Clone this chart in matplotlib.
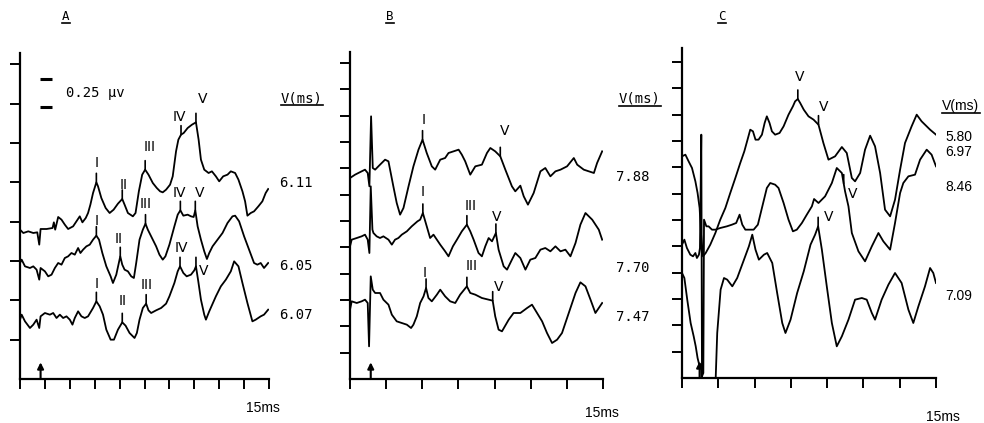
import numpy as np
import matplotlib.pyplot as plt

# ---- panel A : latency (ms) / amplitude (arb. units), three traces ----
a1_t = [0, 0.2, 0.5, 0.8, 1.04, 1.16, 1.24, 1.6, 1.96, 2.04, 2.12, 2.3, 2.5, 2.7, 2.9, 3.2, 3.44, 3.6, 3.76, 3.96,
        4.1, 4.24, 4.4, 4.6, 4.7, 4.9, 5.16, 5.4, 5.64, 5.9, 6.16, 6.3, 6.5, 6.8, 6.96, 7.16, 7.36, 7.54, 7.74, 8.0,
        8.24, 8.44, 8.6, 8.8, 9.04, 9.2, 9.4, 9.54, 9.7, 9.86, 10.1, 10.36, 10.6, 10.76, 10.9, 11.1, 11.36, 11.56,
        11.8, 12.0, 12.24, 12.5, 12.7, 12.96, 13.16, 13.4, 13.56, 13.7, 13.9, 14.1, 14.36, 14.6, 14.8, 14.95]
a1_v = [4.48, 4.38, 4.43, 4.38, 4.40, 4.03, 4.50, 4.50, 4.53, 4.70, 4.48, 4.86, 4.78, 4.63, 4.50, 4.58, 4.76, 4.88,
        4.70, 4.83, 4.98, 5.23, 5.58, 5.90, 5.78, 5.43, 5.13, 4.98, 5.08, 5.26, 5.40, 5.23, 4.98, 4.88, 4.98, 5.63,
        6.13, 6.28, 6.13, 5.88, 5.73, 5.63, 5.60, 5.68, 5.83, 6.08, 6.83, 7.18, 7.33, 7.38, 7.53, 7.63, 7.70, 7.18,
        6.58, 6.28, 6.18, 6.23, 6.08, 5.93, 6.08, 6.13, 6.23, 6.18, 5.98, 5.63, 5.33, 4.90, 4.98, 5.03, 5.18, 5.33,
        5.58, 5.70]
a2_t = [0, 0.1, 0.3, 0.6, 0.8, 1.0, 1.16, 1.24, 1.5, 1.7, 1.9, 2.1, 2.3, 2.5, 2.7, 2.9, 3.1, 3.3, 3.5, 3.64, 3.8,
        4.0, 4.2, 4.4, 4.6, 4.76, 4.96, 5.2, 5.46, 5.6, 5.8, 6.04, 6.16, 6.3, 6.5, 6.7, 6.86, 7.0, 7.2, 7.4, 7.56,
        7.7, 7.9, 8.2, 8.4, 8.6, 8.76, 9.0, 9.3, 9.5, 9.66, 9.84, 10.1, 10.3, 10.46, 10.56, 10.7, 10.9, 11.1, 11.26,
        11.4, 11.6, 11.9, 12.2, 12.5, 12.8, 12.96, 13.2, 13.5, 13.8, 14.1, 14.3, 14.5, 14.7, 14.95]
a2_v = [3.48, 3.58, 3.38, 3.33, 3.38, 3.28, 2.98, 3.33, 3.23, 3.08, 3.13, 3.33, 3.48, 3.43, 3.63, 3.68, 3.78, 3.73,
        3.93, 3.78, 3.88, 3.98, 4.03, 4.18, 4.30, 4.18, 3.78, 3.38, 3.08, 2.88, 3.13, 3.68, 3.43, 3.28, 3.23, 3.08,
        3.03, 3.48, 4.18, 4.48, 4.66, 4.48, 4.28, 3.98, 3.73, 3.58, 3.68, 4.03, 4.58, 4.93, 5.06, 4.90, 4.93, 4.88,
        4.86, 5.06, 4.58, 4.18, 3.83, 3.60, 3.78, 3.98, 4.18, 4.38, 4.68, 4.88, 4.90, 4.73, 4.28, 3.88, 3.48, 3.43,
        3.48, 3.33, 3.48]
a3_t = [0, 0.1, 0.3, 0.6, 0.8, 1.0, 1.16, 1.24, 1.5, 1.8, 2.0, 2.2, 2.4, 2.6, 2.8, 3.0, 3.16, 3.3, 3.5, 3.7, 3.9,
        4.1, 4.4, 4.6, 4.8, 5.0, 5.2, 5.46, 5.66, 5.9, 6.16, 6.36, 6.6, 6.9, 7.04, 7.2, 7.4, 7.6, 7.74, 7.9, 8.2,
        8.5, 8.8, 9.0, 9.3, 9.5, 9.64, 9.84, 10.04, 10.3, 10.5, 10.6, 10.74, 10.9, 11.1, 11.2, 11.4, 11.8, 12.1,
        12.4, 12.7, 12.9, 13.16, 13.4, 13.7, 14.0, 14.2, 14.5, 14.7, 14.95]
a3_v = [1.78, 1.93, 1.73, 1.53, 1.63, 1.78, 1.53, 1.88, 1.98, 1.93, 1.98, 1.83, 1.93, 1.83, 1.88, 1.78, 1.63, 1.83,
        2.03, 1.88, 1.83, 1.88, 2.13, 2.33, 2.18, 1.93, 1.48, 1.18, 1.18, 1.48, 1.70, 1.60, 1.38, 1.23, 1.38, 1.78,
        2.13, 2.26, 2.06, 1.98, 2.06, 2.13, 2.26, 2.48, 2.88, 3.23, 3.38, 3.18, 3.08, 3.13, 3.26, 3.38, 2.93, 2.38,
        1.93, 1.78, 2.03, 2.48, 2.78, 2.98, 3.23, 3.53, 3.38, 2.88, 2.28, 1.73, 1.78, 1.88, 1.93, 2.08]

# ---- panel B ----
b1_t = [0, 0.30, 0.69, 0.89, 1.05, 1.15, 1.25, 1.35, 1.49, 1.78, 2.08, 2.28, 2.57, 2.77, 2.97, 3.17, 3.47, 3.76,
        4.06, 4.30, 4.55, 4.85, 5.05, 5.35, 5.64, 5.84, 6.14, 6.44, 6.63, 6.83, 7.13, 7.43, 7.82, 8.12, 8.32, 8.61,
        8.91, 9.21, 9.60, 9.80, 10.10, 10.30, 10.55, 10.89, 11.29, 11.58, 11.88, 12.18, 12.48, 12.87, 13.27, 13.47,
        13.86, 14.46, 14.65, 14.95]
b1_v = [6.03, 6.13, 6.23, 6.28, 6.18, 5.78, 7.88, 6.33, 6.28, 6.43, 6.58, 6.53, 5.78, 5.28, 4.93, 5.13, 5.78, 6.38,
        6.88, 7.18, 6.78, 6.38, 6.28, 6.58, 6.63, 6.78, 6.83, 6.88, 6.73, 6.53, 6.13, 6.38, 6.43, 6.78, 6.93, 6.83,
        6.68, 6.28, 5.78, 5.63, 5.80, 5.48, 5.23, 5.58, 6.23, 6.33, 6.08, 6.23, 6.28, 6.38, 6.63, 6.43, 6.28, 6.18,
        6.48, 6.83]
b2_t = [0, 0.10, 0.40, 0.69, 0.89, 1.05, 1.15, 1.23, 1.33, 1.39, 1.58, 1.78, 1.98, 2.28, 2.48, 2.67, 2.87, 3.07,
        3.37, 3.66, 4.00, 4.16, 4.32, 4.55, 4.75, 4.95, 5.15, 5.35, 5.64, 5.84, 6.10, 6.34, 6.63, 6.93, 7.13, 7.33,
        7.62, 7.82, 8.02, 8.22, 8.42, 8.65, 8.81, 9.11, 9.31, 9.60, 9.80, 10.10, 10.40, 10.69, 10.99, 11.29, 11.58,
        11.88, 12.18, 12.48, 12.77, 13.07, 13.37, 13.66, 13.96, 14.36, 14.75, 14.95]
b2_v = [3.98, 4.18, 4.23, 4.28, 4.33, 4.18, 3.78, 5.78, 4.48, 4.38, 4.28, 4.23, 4.28, 4.18, 4.03, 4.18, 4.23, 4.33,
        4.43, 4.58, 4.73, 4.78, 4.98, 4.58, 4.23, 4.33, 4.18, 4.03, 3.83, 3.68, 3.98, 4.18, 4.43, 4.63, 4.43, 4.18,
        3.78, 3.68, 3.98, 4.23, 4.13, 4.38, 3.88, 3.38, 3.28, 3.58, 3.78, 3.63, 3.28, 3.58, 3.63, 3.88, 3.93, 3.83,
        3.98, 3.83, 3.88, 3.68, 4.08, 4.63, 4.98, 4.78, 4.48, 4.18]
b3_t = [0, 0.10, 0.40, 0.69, 0.89, 1.05, 1.13, 1.23, 1.35, 1.49, 1.78, 1.98, 2.28, 2.48, 2.77, 3.07, 3.37, 3.62,
        3.76, 3.96, 4.16, 4.36, 4.51, 4.65, 4.85, 5.15, 5.35, 5.64, 5.94, 6.24, 6.53, 6.93, 7.13, 7.43, 7.82, 8.22,
        8.46, 8.61, 8.81, 9.01, 9.41, 9.70, 10.10, 10.50, 10.79, 11.09, 11.39, 11.68, 11.98, 12.28, 12.57, 12.97,
        13.37, 13.66, 13.96, 14.26, 14.55, 14.75, 14.95]
b3_v = [2.08, 2.33, 2.28, 2.33, 2.38, 2.28, 0.98, 3.08, 2.68, 2.58, 2.58, 2.38, 2.23, 1.93, 1.73, 1.68, 1.63, 1.53,
        1.63, 1.88, 2.28, 2.48, 2.73, 2.43, 2.33, 2.53, 2.68, 2.48, 2.33, 2.28, 2.53, 2.78, 2.58, 2.53, 2.43, 2.38,
        2.35, 1.88, 1.48, 1.43, 1.78, 1.98, 1.98, 2.13, 2.23, 1.98, 1.73, 1.38, 1.08, 1.18, 1.38, 1.98, 2.58, 2.90,
        2.78, 2.38, 1.98, 2.13, 2.28]

# ---- panel C ----
c1_t = [0, 0.20, 0.39, 0.59, 0.79, 0.92, 1.04, 1.12, 1.24, 1.40, 1.67, 1.97, 2.26, 2.56, 2.85, 3.15, 3.44, 3.68,
        3.87, 4.03, 4.19, 4.34, 4.52, 4.72, 4.88, 5.01, 5.17, 5.31, 5.50, 5.76, 6.00, 6.29, 6.55, 6.68, 6.84, 6.98,
        7.19, 7.47, 7.77, 8.06, 8.35, 8.65, 9.04, 9.44, 9.73, 10.03, 10.22, 10.52, 10.81, 11.11, 11.40, 11.70,
        11.99, 12.29, 12.58, 12.88, 13.17, 13.56, 13.86, 14.15, 14.45, 14.65, 15.0]
c1_v = [6.65, 6.70, 6.50, 6.30, 5.90, 5.55, 5.10, 4.35, 3.65, 3.75, 4.00, 4.35, 4.75, 5.10, 5.55, 6.00, 6.45, 6.80,
        7.15, 7.45, 7.40, 7.15, 7.15, 7.30, 7.65, 7.85, 7.65, 7.40, 7.30, 7.35, 7.55, 7.90, 8.15, 8.30, 8.37, 8.25,
        8.05, 7.85, 7.75, 7.60, 7.05, 6.55, 6.65, 6.93, 6.75, 6.00, 5.90, 6.15, 6.85, 7.27, 6.95, 6.15, 5.05, 4.85,
        5.35, 6.25, 7.05, 7.55, 7.90, 7.70, 7.55, 7.45, 7.30]
c2_t = [0, 0.14, 0.29, 0.49, 0.65, 0.79, 0.88, 1.00, 1.06, 1.14, 1.18, 1.26, 1.30, 1.44, 1.57, 1.77, 1.97, 2.26,
        2.65, 2.95, 3.20, 3.40, 3.56, 3.74, 3.93, 4.23, 4.48, 4.72, 5.01, 5.21, 5.50, 5.70, 6.00, 6.29, 6.55, 6.78,
        7.08, 7.37, 7.67, 7.80, 8.06, 8.45, 8.85, 9.14, 9.44, 9.63, 9.83, 10.03, 10.42, 10.81, 11.21, 11.60, 11.89,
        12.29, 12.58, 12.88, 13.07, 13.37, 13.76, 14.06, 14.45, 14.74, 15.0]
c2_v = [4.00, 4.15, 3.90, 3.70, 3.65, 3.75, 3.60, 3.70, 3.90, 7.30, 0.05, 0.15, 4.75, 4.55, 4.55, 4.45, 4.45, 4.50,
        4.55, 4.60, 4.65, 4.90, 4.60, 4.45, 4.45, 4.45, 4.60, 5.10, 5.70, 5.85, 5.80, 5.70, 5.25, 4.75, 4.40, 4.45,
        4.65, 4.90, 5.15, 5.37, 5.25, 5.45, 5.85, 6.30, 6.15, 5.60, 5.15, 4.35, 3.80, 3.50, 3.95, 4.35, 4.10, 3.85,
        4.65, 5.55, 5.85, 6.05, 6.10, 6.55, 6.85, 6.70, 6.35]
c3_t = [0, 0.14, 0.31, 0.51, 0.69, 0.81, 0.92, 1.04, 1.12, 1.28, 1.67, 1.87, 1.99, 2.08, 2.28, 2.48, 2.67, 2.97,
        3.26, 3.66, 3.95, 4.15, 4.34, 4.54, 4.84, 5.03, 5.33, 5.62, 5.92, 6.11, 6.41, 6.80, 7.19, 7.59, 7.86, 8.04,
        8.26, 8.55, 8.85, 9.14, 9.44, 9.83, 10.22, 10.62, 10.91, 11.21, 11.40, 11.79, 12.19, 12.58, 12.97, 13.37,
        13.66, 13.96, 14.35, 14.65, 14.84, 15.0]
c3_v = [3.15, 3.00, 2.35, 1.65, 1.25, 0.95, 0.60, 0.35, 0.40, -1.65, -1.65, -0.65, 0.00, 1.35, 2.65, 3.00, 2.95,
        2.75, 3.00, 3.55, 3.95, 4.30, 3.85, 3.55, 3.70, 3.75, 3.45, 2.55, 1.65, 1.35, 1.75, 2.55, 3.20, 4.00, 4.30,
        4.55, 3.85, 2.75, 1.65, 0.95, 1.25, 1.75, 2.35, 2.40, 2.35, 1.95, 1.75, 2.35, 2.80, 3.15, 2.85, 2.05, 1.65,
        2.15, 2.75, 3.30, 3.15, 2.85]

# wave labels: (trace, label, latency ms, label offset x px, label offset y px)
a_marks = [(0, 'I', 4.6, 0, 19), (0, 'II', 6.16, 1, 14), (0, 'III', 7.54, 4, 23), (0, 'IV', 9.7, -2, 18),
           (0, 'V', 10.6, 7, 23),
           (1, 'I', 4.6, 0, 15), (1, 'II', 6.04, -2, 17), (1, 'III', 7.56, 0, 20), (1, 'IV', 9.66, -1, 17),
           (1, 'V', 10.56, 4, 17),
           (2, 'I', 4.6, 0, 17), (2, 'II', 6.16, 0, 21), (2, 'III', 7.6, 0, 19), (2, 'IV', 9.64, 1, 18),
           (2, 'V', 10.6, 8, -5)]
b_marks = [(0, 'I', 4.30, 1, 20), (0, 'V', 8.91, 4, 25),
           (1, 'I', 4.32, 0, 21), (1, 'III', 6.93, 4, 19), (1, 'V', 8.65, 1, 16),
           (2, 'I', 4.51, -1, 15), (2, 'III', 6.93, 5, 20), (2, 'V', 8.46, 6, 14)]
c_marks = [(0, 'V', 6.84, 2, 22), (0, 'V', 8.06, 5, 18), (1, 'V', 9.55, 9, -10), (2, 'V', 8.04, 10, 9)]

a_lat = ['6.11', '6.05', '6.07']
b_lat = ['7.88', '7.70', '7.47']
c_lat = ['5.80', '6.97', '8.46', '7.09']

stim = {'A': 1.24, 'B': 1.23, 'C': 1.04}
scale_uv = 0.25
units_per_uv = 3.36

W, H = 984, 423
fig = plt.figure(figsize=(W / 100, H / 100), dpi=100)
fig.patch.set_facecolor('white')


def fx(x):
    return x / W


def fy(y):
    return 1 - y / H


def setup(ax, ymax, yticks, xticks):
    ax.set_xlim(0, 15)
    ax.set_ylim(0, ymax)
    ax.spines['top'].set_visible(False)
    ax.spines['right'].set_visible(False)
    ax.spines['left'].set_linewidth(1.6)
    ax.spines['bottom'].set_linewidth(1.6)
    ax.set_xticks(xticks)
    ax.set_yticks(yticks)
    ax.tick_params(direction='out', length=7, width=1.4, labelbottom=False, labelleft=False)
    ax.patch.set_alpha(0)


def draw(ax, traces, marks, t_stim):
    for t, v in traces:
        ax.plot(t, v, color='black', lw=1.3)
    for i, lab, tm, dx, dy in marks:
        yv = np.interp(tm, traces[i][0], traces[i][1])
        ax.annotate('', xy=(tm, yv), xytext=(0, 9), textcoords='offset pixels',
                    arrowprops=dict(arrowstyle='-', color='black', lw=1.2, shrinkA=0, shrinkB=0))
        ax.annotate(lab, xy=(tm, yv), xytext=(dx, dy), textcoords='offset pixels',
                    ha='center', va='center', fontsize=10, family='DejaVu Sans')
    ax.annotate('', xy=(t_stim, 0.5), xytext=(t_stim, 0),
                arrowprops=dict(arrowstyle='-|>', color='black', lw=1.5, mutation_scale=9,
                                shrinkA=0, shrinkB=0))


def underlined(x, y, s, gap=7, **kw):
    txt = fig.text(fx(x), fy(y), s, ha='center', va='center', **kw)
    fig.canvas.draw()
    bb = txt.get_window_extent()
    fig.add_artist(plt.Line2D([bb.x0 / W, bb.x1 / W], [fy(y + gap)] * 2,
                              transform=fig.transFigure, color='black', lw=1.2))


axA = fig.add_axes([20 / W, 44 / H, 249 / W, 326 / H])
axB = fig.add_axes([350 / W, 44 / H, 253 / W, 327 / H])
axC = fig.add_axes([682 / W, 45 / H, 254 / W, 330 / H])

setup(axA, 9.78, np.arange(1, 9) * 1.18, np.linspace(0, 15, 11))
setup(axB, 9.81, np.arange(1, 13) * 0.79, np.linspace(0, 15, 8))
setup(axC, 9.9, np.arange(1, 13) * 0.79, np.linspace(0, 15, 8))

draw(axA, [(a1_t, a1_v), (a2_t, a2_v), (a3_t, a3_v)], a_marks, stim['A'])
draw(axB, [(b1_t, b1_v), (b2_t, b2_v), (b3_t, b3_v)], b_marks, stim['B'])
draw(axC, [(c1_t, c1_v), (c2_t, c2_v), (c3_t, c3_v)], c_marks, stim['C'])

# calibration bar in panel A
bar_top = 9.01
for yb in (bar_top, bar_top - scale_uv * units_per_uv):
    axA.plot([1.2, 1.93], [yb, yb], color='black', lw=2.2, solid_capstyle='butt')
axA.text(2.8, bar_top - scale_uv * units_per_uv / 2, '0.25 µv', ha='left', va='center',
         fontsize=10, family='DejaVu Sans Mono')

mono = dict(fontsize=10, family='DejaVu Sans Mono')
sans = dict(fontsize=10, family='Liberation Sans')

underlined(66, 16, 'A', gap=7, fontsize=9, family='DejaVu Sans Mono')
underlined(390, 16, 'B', gap=7, fontsize=9, family='DejaVu Sans Mono')
underlined(722, 16, 'C', gap=7, fontsize=9, family='DejaVu Sans Mono')

underlined(302, 98, 'V(ms)', **mono)
underlined(640, 99, 'V(ms)', **mono)
underlined(961, 106, 'V(ms)', **sans)

for s, y in zip(a_lat, [183, 266, 315]):
    fig.text(fx(296), fy(y), s, ha='center', va='center', **mono)
for s, y in zip(b_lat, [177, 268, 317]):
    fig.text(fx(633), fy(y), s, ha='center', va='center', **mono)
for s, y in zip(c_lat, [137, 152, 187, 296]):
    fig.text(fx(959), fy(y), s, ha='center', va='center', **sans)

for x, y in [(263, 408), (602, 413), (943, 417)]:
    fig.text(fx(x), fy(y), '15ms', ha='center', va='center', fontsize=10, family='Liberation Sans')

fig.savefig('out.png', dpi=100, facecolor='white')
